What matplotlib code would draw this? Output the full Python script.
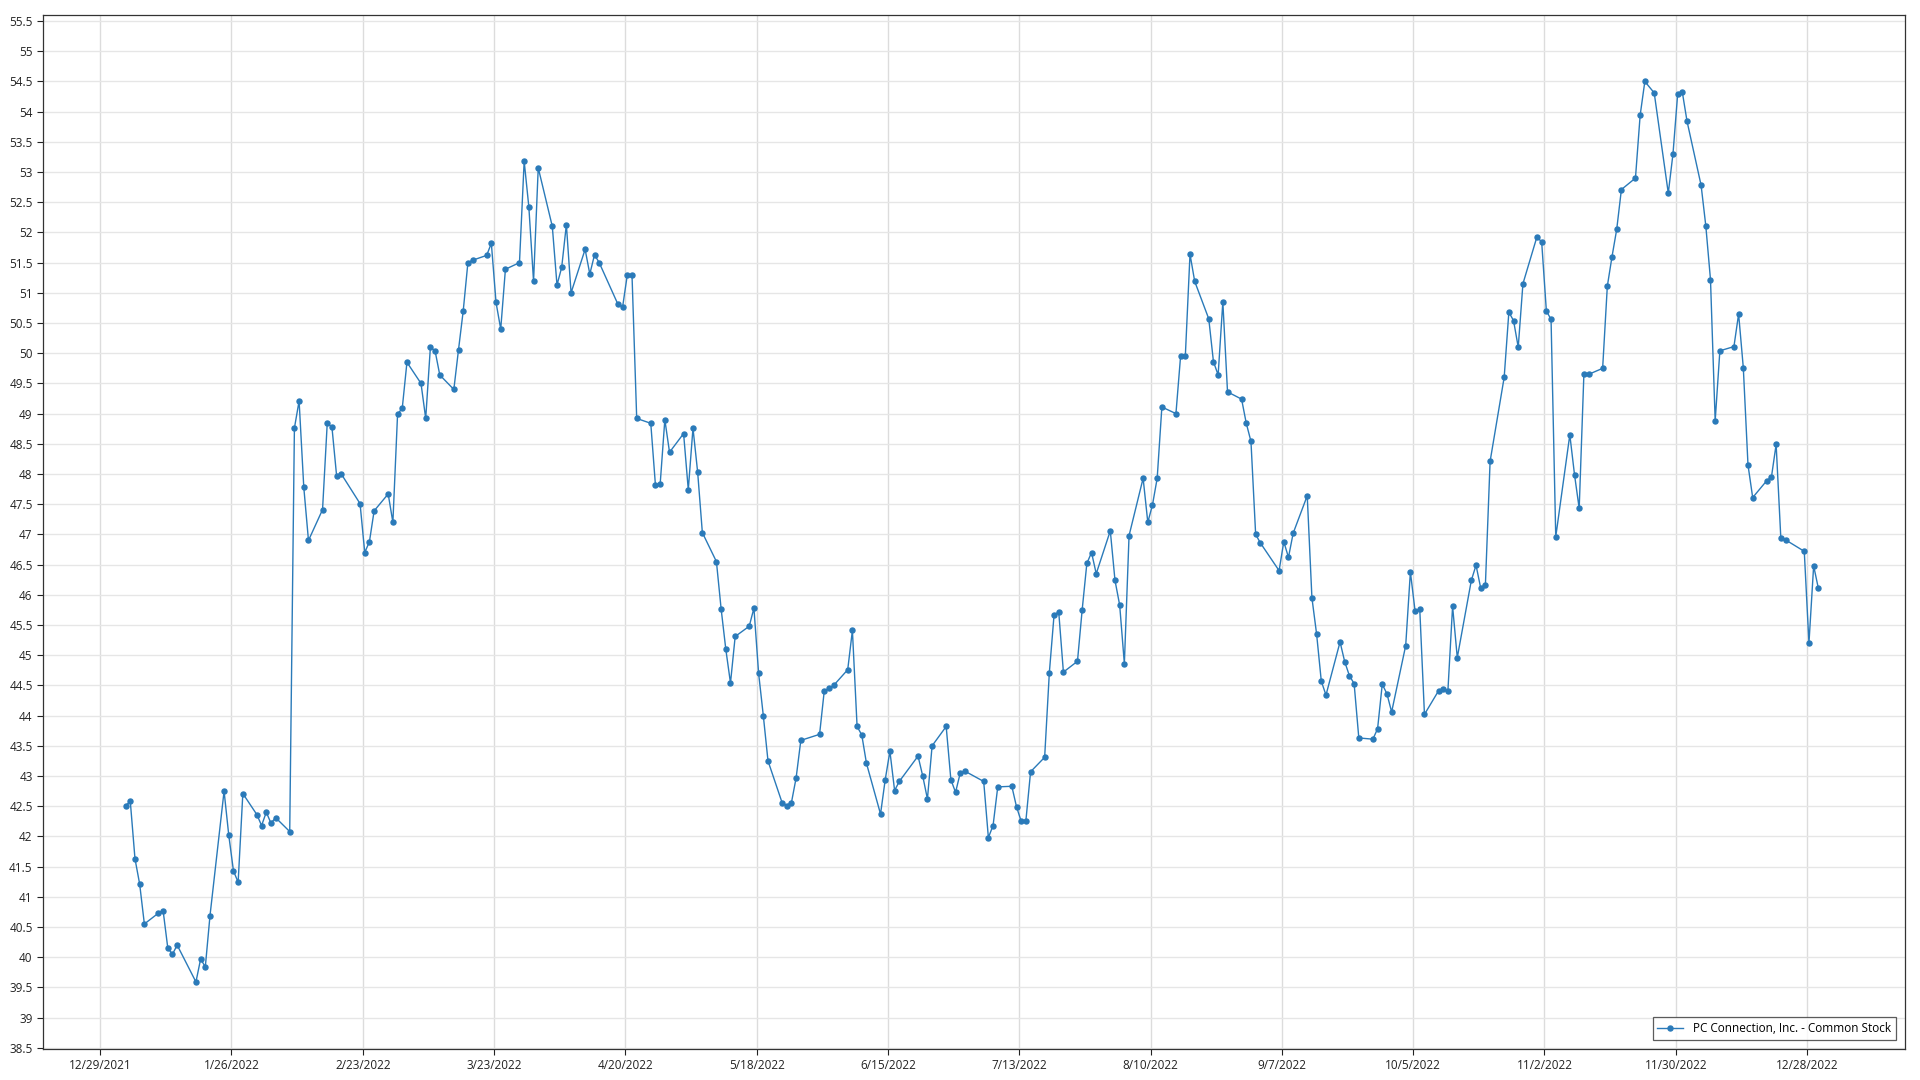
import datetime as dt
import numpy as np
import pandas as pd
import matplotlib
matplotlib.use("Agg")
import matplotlib.pyplot as plt
import matplotlib.dates as mdates
from matplotlib.ticker import MultipleLocator, FuncFormatter

# ----- data: daily close, 2022 trading days -----
series_name = "PC Connection, Inc. - Common Stock"
holidays = ["2022-01-17", "2022-02-21", "2022-04-15", "2022-05-30", "2022-06-20",
            "2022-07-04", "2022-09-05", "2022-11-24", "2022-12-26"]

jan = [42.51, 42.58, 41.63, 41.21, 40.55, 40.73, 40.77, 40.15, 40.05, 40.20,
       39.59, 39.97, 39.84, 40.69, 42.75, 42.02, 41.43, 41.24, 42.71, 42.36]
feb = [42.18, 42.40, 42.22, 42.31, 42.08, 48.76, 49.21, 47.78, 46.90, 47.41,
       48.84, 48.78, 47.97, 48.00, 47.51, 46.70, 46.88, 47.39, 47.67]
mar = [47.20, 48.99, 49.09, 49.85, 49.50, 48.92, 50.10, 50.04, 49.64, 49.40,
       50.06, 50.70, 51.50, 51.54, 51.62, 51.82, 50.84, 50.40, 51.39, 51.50,
       53.18, 52.42, 51.19]
apr = [53.07, 52.10, 51.13, 51.42, 52.13, 51.00, 51.72, 51.31, 51.63, 51.50,
       50.81, 50.77, 51.30, 51.29, 48.92, 48.84, 47.81, 47.83, 48.90, 48.36]
may = [48.67, 47.74, 48.76, 48.03, 47.03, 46.55, 45.77, 45.10, 44.54, 45.31,
       45.48, 45.78, 44.70, 44.00, 43.25, 42.56, 42.51, 42.56, 42.97, 43.59,
       43.69]
jun = [44.41, 44.45, 44.50, 44.76, 45.41, 43.82, 43.68, 43.21, 42.37, 42.94,
       43.41, 42.76, 42.91, 43.33, 43.00, 42.62, 43.50, 43.82, 42.94, 42.73,
       43.05]
jul = [43.08, 42.91, 41.98, 42.18, 42.82, 42.83, 42.49, 42.25, 42.26, 43.07,
       43.31, 44.71, 45.66, 45.72, 44.72, 44.90, 45.75, 46.52, 46.70, 46.35]
aug = [47.06, 46.24, 45.83, 44.86, 46.98, 47.93, 47.20, 47.49, 47.93, 49.11,
       49.00, 49.96, 49.95, 51.64, 51.19, 50.57, 49.86, 49.64, 50.85, 49.36,
       49.24, 48.84, 48.54]
sep = [47.00, 46.86, 46.40, 46.88, 46.62, 47.02, 47.64, 45.95, 45.35, 44.57,
       44.34, 45.22, 44.89, 44.66, 44.53, 43.63, 43.61, 43.78, 44.52, 44.36,
       44.06]
oct_ = [45.16, 46.38, 45.73, 45.76, 44.02, 44.41, 44.44, 44.41, 45.81, 44.96,
        46.24, 46.49, 46.11, 46.17, 48.21, 49.60, 50.68, 50.54, 50.10, 51.15,
        51.93]
nov = [51.84, 50.70, 50.56, 46.96, 48.65, 47.99, 47.43, 49.65, 49.65, 49.75,
       51.11, 51.60, 52.05, 52.71, 52.90, 53.94, 54.50, 54.31, 52.65, 53.30,
       54.29]
dec = [54.32, 53.84, 52.78, 52.11, 51.22, 48.88, 50.04, 50.11, 50.65, 49.76,
       48.15, 47.61, 47.89, 47.95, 48.49, 46.94, 46.91, 46.72, 45.20, 46.48,
       46.11]

# points sit a bit past midnight on the time axis in the original
dates = pd.bdate_range("2022-01-03", "2022-12-30", freq="C", holidays=holidays) + pd.Timedelta(hours=10)
close = np.array(jan + feb + mar + apr + may + jun + jul + aug + sep + oct_ + nov + dec)

plt.rcParams["font.family"] = ["Open Sans", "DejaVu Sans"]

fig = plt.figure(figsize=(19.2, 10.8), dpi=100)
ax = fig.add_axes([43 / 1920, 1 - 1049 / 1080, (1905 - 43) / 1920, (1049 - 15) / 1080])

ax.plot(dates, close, color="#2a7ab9", linewidth=1.0, marker="o", markersize=3.6,
        label=series_name)

# axes range and ticks
t0 = dt.datetime(2021, 12, 29)
ax.set_xlim(t0 - dt.timedelta(days=12.2), t0 + dt.timedelta(days=384.9))
ax.set_ylim(38.48, 55.6)

xt = [t0 + dt.timedelta(days=28 * i) for i in range(14)]
ax.set_xticks(xt)
ax.xaxis.set_major_formatter(FuncFormatter(
    lambda v, p: mdates.num2date(v).strftime("%m/%d/%Y").lstrip("0").replace("/0", "/")))
ax.yaxis.set_major_locator(MultipleLocator(0.5))
ax.yaxis.set_major_formatter(FuncFormatter(lambda v, p: "%g" % v))

ax.grid(True, axis="y", color="#e6e6e6", linewidth=1.0)
ax.grid(True, axis="x", color="#dcdcdc", linewidth=1.0)
ax.set_axisbelow(True)
ax.tick_params(labelsize=8.5, colors="#222222", length=4, width=0.8)
for s in ax.spines.values():
    s.set_color("#333333")
    s.set_linewidth(0.9)

leg = ax.legend(loc="lower right", fontsize=8.5, frameon=True, fancybox=False,
                borderaxespad=0.8, handlelength=2.2)
leg.get_frame().set_edgecolor("#333333")
leg.get_frame().set_linewidth(0.9)

fig.savefig("out.png", dpi=100)
